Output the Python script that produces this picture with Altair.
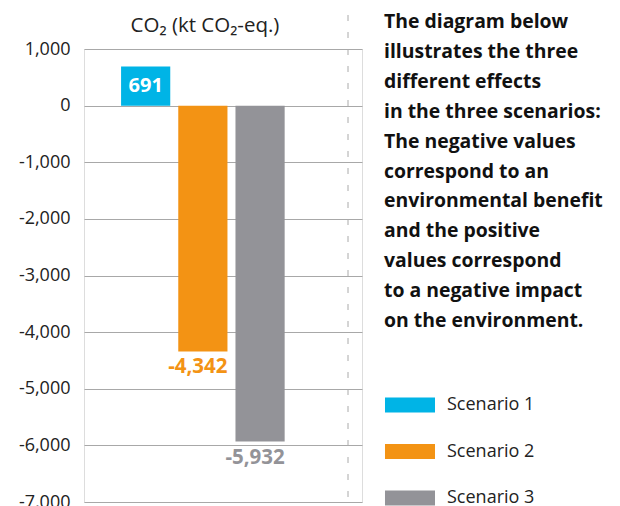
import altair as alt
import pandas as pd

scenarios = ["Scenario 1", "Scenario 2", "Scenario 3"]
values = [691, -4342, -5932]
colors = ["#00B4E6", "#F39314", "#939398"]
y_ticks = [1000, 0, -1000, -2000, -3000, -4000, -5000, -6000, -7000]
axis_title = "CO\u2082 (kt CO\u2082-eq.)"
note_lines = [
    "The diagram below",
    "illustrates the three",
    "different effects",
    "in the three scenarios:",
    "The negative values",
    "correspond to an",
    "environmental benefit",
    "and the positive",
    "values correspond",
    "to a negative impact",
    "on the environment.",
]

df = pd.DataFrame({"scenario": scenarios, "value": values})

FONT = "Open Sans"
W, H = 278, 453

xscale = alt.Scale(domain=scenarios, paddingInner=0.14, paddingOuter=1, align=0.324)
yscale = alt.Scale(domain=[-7000, 1000], nice=False)
cscale = alt.Scale(domain=scenarios, range=colors)

base = alt.Chart(df)

bars = base.mark_bar().encode(
    x=alt.X("scenario:N", scale=xscale, axis=None),
    y=alt.Y("value:Q", scale=yscale, axis=alt.Axis(
        values=y_ticks, title=None, domain=False, ticks=False, grid=True,
        gridColor="#a8a8a8", gridWidth=1, labelFontSize=18, labelColor="#222222",
        labelFont=FONT, labelPadding=14,
        labelExpr="replace(format(datum.value, ','), '\u2212', '-')")),
    color=alt.Color("scenario:N", scale=cscale, legend=alt.Legend(
        title=None, orient="none", legendX=311, legendY=341,
        symbolType="M-1.667,-0.5H1.667V0.5H-1.667Z", symbolSize=900,
        symbolStrokeWidth=0, symbolOpacity=1, rowPadding=22.5, labelOffset=22,
        labelFontSize=18, labelFont=FONT, labelColor="#222222", padding=0)),
)

lab = base.transform_calculate(
    label="replace(format(datum.value, ','), '\u2212', '-')"
)

pos_labels = lab.transform_filter("datum.value > 0").mark_text(
    baseline="middle", dy=20, fontSize=20, fontWeight="bold", font=FONT, color="white"
).encode(
    x=alt.X("scenario:N", scale=xscale),
    y=alt.Y("value:Q", scale=yscale),
    text="label:N",
)

neg_labels = lab.transform_filter("datum.value < 0").mark_text(
    baseline="middle", dy=16, dx=-5, fontSize=20.5, fontWeight="bold", font=FONT
).encode(
    x=alt.X("scenario:N", scale=xscale),
    y=alt.Y("value:Q", scale=yscale),
    text="label:N",
    color=alt.Color("scenario:N", scale=cscale, legend=None),
)

divider = alt.Chart(pd.DataFrame({"k": [0]})).mark_rule(
    color="#aaaaaa", strokeWidth=1, strokeDash=[6, 11]
).encode(x=alt.value(264), y=alt.value(-34), y2=alt.value(460))

title_txt = alt.Chart(pd.DataFrame({"t": [axis_title]})).mark_text(
    fontSize=20.5, font=FONT, color="#222222", baseline="middle", align="center"
).encode(x=alt.value(121), y=alt.value(-23), text="t:N")

note = alt.Chart(pd.DataFrame({"k": [0]})).mark_text(
    align="left", baseline="alphabetic", fontSize=19.4, fontWeight="bold", font=FONT,
    color="#111111", lineHeight=29.9
).encode(x=alt.value(300), y=alt.value(-21), text=alt.value(note_lines))

chart = alt.layer(bars, pos_labels, neg_labels, divider, title_txt, note).properties(
    width=W, height=H,
    autosize=alt.AutoSizeParams(type="none"),
    padding={"left": 76, "top": 41, "right": 250, "bottom": 4},
).configure_view(stroke=None).configure(font=FONT)

chart.save("out.html", embed_options={"renderer": "svg", "actions": False})
